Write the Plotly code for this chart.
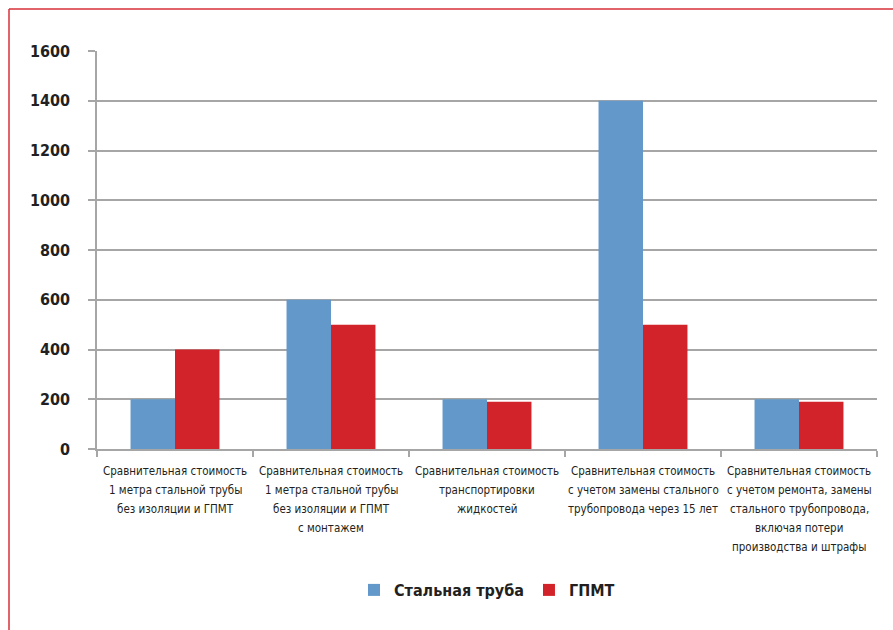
import plotly.graph_objects as go

categories = [
    "Сравнительная стоимость<br>1 метра стальной трубы<br>без изоляции и ГПМТ",
    "Сравнительная стоимость<br>1 метра стальной трубы<br>без изоляции и ГПМТ<br>с монтажем",
    "Сравнительная стоимость<br>транспортировки<br>жидкостей",
    "Сравнительная стоимость<br>с учетом замены стального<br>трубопровода через 15 лет",
    "Сравнительная стоимость<br>с учетом ремонта, замены<br>стального трубопровода,<br>включая потери<br>производства и штрафы",
]
steel = [200, 600, 200, 1400, 200]
gpmt = [400, 500, 190, 500, 190]
series_names = ["Стальная труба", "ГПМТ"]
y_ticks = [0, 200, 400, 600, 800, 1000, 1200, 1400, 1600]

FONT = "DejaVu Sans Condensed, sans-serif"
BLUE = "#6298CA"
RED = "#D2232A"
GRID = "#A6A6A6"
TXT = "#231F20"

fig = go.Figure()
fig.add_trace(go.Bar(x=categories, y=steel, name=series_names[0], marker_color=BLUE,
                     marker_line_width=0))
fig.add_trace(go.Bar(x=categories, y=gpmt, name=series_names[1], marker_color=RED,
                     marker_line_width=0))

L, R, T, B = 97, 16, 51, 181
W, H = 893, 630
pw = W - L - R
ph = H - T - B

fig.update_layout(
    width=W, height=H,
    margin=dict(l=L, r=R, t=T, b=B),
    paper_bgcolor="white", plot_bgcolor="white",
    barmode="group", bargap=0.43, bargroupgap=0,
    font=dict(family=FONT, color=TXT),
    showlegend=True,
    legend=dict(orientation="h", x=0.5, xanchor="center", y=(H - B - 590) / ph,
                yanchor="middle", font=dict(size=16, family=FONT, color=TXT, weight="bold"),
                itemwidth=30, traceorder="normal"),
    xaxis=dict(
        type="category", showgrid=False, showline=True, linecolor=GRID, linewidth=1.5,
        ticks="outside", tickson="boundaries", ticklen=6, tickcolor=GRID, tickwidth=1.5,
        showticklabels=False,
    ),
    yaxis=dict(
        range=[0, 1600], tickvals=y_ticks, showgrid=True, gridcolor=GRID, gridwidth=1.5,
        showline=True, linecolor=GRID, linewidth=1.5, ticks="outside", ticklen=7,
        tickcolor=GRID, tickwidth=1.5, zeroline=False,
        tickfont=dict(size=16, family=FONT, color=TXT, weight="bold"), ticklabelstandoff=15,
    ),
)

# category labels, one annotation per line for the reference's line spacing
for cat in categories:
    for i, line in enumerate(cat.split("<br>")):
        fig.add_annotation(x=cat, y=0, xref="x", yref="paper", text=line, showarrow=False,
                           yanchor="middle", xanchor="center", yshift=-22 - 19 * i,
                           font=dict(size=11.5, family=FONT, color=TXT))

# red frame lines (left and top) in paper coordinates
x_left = (9 - L) / pw
y_top = (H - B - 9) / ph
fig.add_shape(type="line", xref="paper", yref="paper", x0=x_left, x1=x_left,
              y0=y_top, y1=(H - B - H - 5) / ph, line=dict(color="#D9303A", width=1.5))
fig.add_shape(type="line", xref="paper", yref="paper", x0=x_left, x1=(W + 5 - L) / pw,
              y0=y_top, y1=y_top, line=dict(color="#D9303A", width=1.5))

fig.write_html("out.html")
